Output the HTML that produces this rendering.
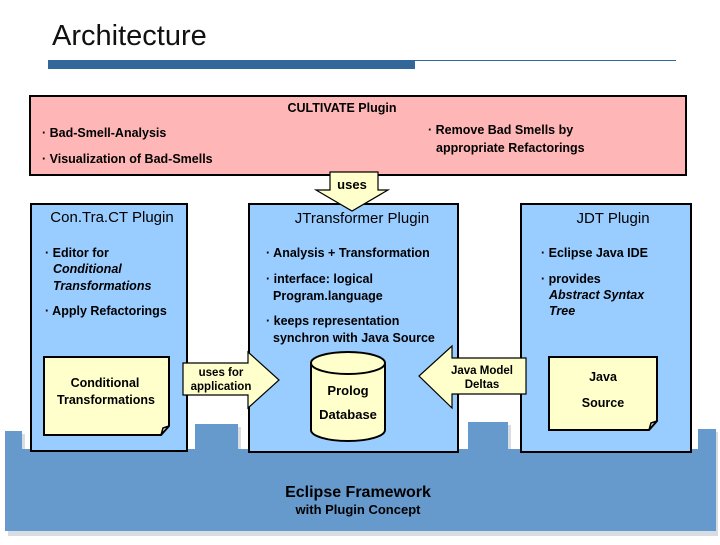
<!DOCTYPE html>
<html><head><meta charset="utf-8"><style>
body{margin:0;background:#fff}
svg text{font-family:"Liberation Sans",Arial,sans-serif;}
</style></head><body>
<svg width="720" height="540" viewBox="0 0 720 540" xmlns="http://www.w3.org/2000/svg">
<text x="52" y="45" font-size="29" fill="#111">Architecture</text>
<rect x="48" y="60" width="367" height="9" fill="#336699"/>
<line x1="415" y1="60.5" x2="676" y2="60.5" stroke="#336699" stroke-width="1"/>

<!-- Eclipse framework -->
<path d="M8 434 H25 V452 H198 V427 H241 V452 H471 V425 H511 V452 H701 V432 H718 V536 H8 Z" fill="#d8dde4"/>
<path d="M5 431 H22 V449 H195 V424 H238 V449 H468 V422 H508 V449 H698 V429 H716 V531 H5 Z" fill="#6699cc"/>
<text x="358" y="497" font-size="16" font-weight="bold" text-anchor="middle">Eclipse Framework</text>
<text x="358" y="514" font-size="13" font-weight="bold" text-anchor="middle">with Plugin Concept</text>

<!-- pink -->
<rect x="30" y="96" width="656" height="79" fill="#ffb6b6" stroke="#000" stroke-width="2"/>
<text x="342" y="112" font-size="12.5" font-weight="bold" text-anchor="middle">CULTIVATE Plugin</text>
<g font-size="12.5" font-weight="bold">
<text x="42" y="137">· Bad-Smell-Analysis</text>
<text x="42" y="163">· Visualization of Bad-Smells</text>
<text x="428" y="134">· Remove Bad Smells by</text>
<text x="436" y="152">appropriate Refactorings</text>
</g>

<!-- boxes -->
<rect x="31" y="204" width="156" height="247" fill="#99ccff" stroke="#000" stroke-width="2"/>
<rect x="249" y="204" width="209" height="248" fill="#99ccff" stroke="#000" stroke-width="2"/>
<rect x="521" y="204" width="170" height="248" fill="#99ccff" stroke="#000" stroke-width="2"/>

<!-- uses arrow -->
<path d="M330 172 H378 V190 H388 L352 211 L316 190 H330 Z" fill="#ffffcc" stroke="#000" stroke-width="1.2"/>
<text x="352" y="189" font-size="13" font-weight="bold" text-anchor="middle">uses</text>

<text x="112" y="222" font-size="15" text-anchor="middle">Con.Tra.CT Plugin</text>
<text x="362" y="223" font-size="15" text-anchor="middle">JTransformer Plugin</text>
<text x="613" y="223" font-size="15" text-anchor="middle">JDT Plugin</text>

<g font-size="12.5" font-weight="bold">
<text x="45" y="257">· Editor for</text>
<text x="53" y="273" font-style="italic">Conditional</text>
<text x="53" y="290" font-style="italic">Transformations</text>
<text x="45" y="315">· Apply Refactorings</text>

<text x="266" y="257">· Analysis + Transformation</text>
<text x="266" y="283">· interface: logical</text>
<text x="273" y="300">Program.language</text>
<text x="266" y="325">· keeps representation</text>
<text x="273" y="342">synchron with Java Source</text>

<text x="541" y="257">· Eclipse Java IDE</text>
<text x="541" y="283">· provides</text>
<text x="549" y="299" font-style="italic">Abstract Syntax</text>
<text x="549" y="315" font-style="italic">Tree</text>
</g>

<!-- notes -->
<path d="M44 357 H169 V426 L161 435 H44 Z" fill="#ffffcc" stroke="#000" stroke-width="2"/>
<path d="M161 435 L163 428 L169 426" fill="none" stroke="#000" stroke-width="1.5"/>
<text x="105" y="387" font-size="12.5" font-weight="bold" text-anchor="middle">Conditional</text>
<text x="106" y="404" font-size="12.5" font-weight="bold" text-anchor="middle">Transformations</text>

<path d="M549 357 H657 V421 L649 430 H549 Z" fill="#ffffcc" stroke="#000" stroke-width="2"/>
<path d="M649 430 L651 423 L657 421" fill="none" stroke="#000" stroke-width="1.5"/>
<text x="603" y="381" font-size="12.5" font-weight="bold" text-anchor="middle">Java</text>
<text x="603" y="407" font-size="12.5" font-weight="bold" text-anchor="middle">Source</text>

<!-- uses for application -->
<path d="M183 363 H248 V352 L279 380 L248 408 V395 H183 Z" fill="#ffffcc" stroke="#000" stroke-width="1.2"/>
<text x="221" y="376" font-size="11.5" font-weight="bold" text-anchor="middle">uses for</text>
<text x="221" y="390" font-size="11.5" font-weight="bold" text-anchor="middle">application</text>

<!-- cylinder -->
<path d="M311 363 V430 A37 11 0 0 0 385 430 V363" fill="#ffffcc" stroke="#000" stroke-width="2"/>
<ellipse cx="348" cy="363" rx="37" ry="11" fill="#ffffcc" stroke="#000" stroke-width="2"/>
<text x="348" y="395" font-size="13" font-weight="bold" text-anchor="middle">Prolog</text>
<text x="348" y="419" font-size="13" font-weight="bold" text-anchor="middle">Database</text>

<!-- Java model deltas -->
<path d="M526 358 H452 V346 L419 376 L452 408 V394 H526 Z" fill="#ffffcc" stroke="#000" stroke-width="1.2"/>
<text x="482" y="374" font-size="11.5" font-weight="bold" text-anchor="middle">Java Model</text>
<text x="482" y="388" font-size="11.5" font-weight="bold" text-anchor="middle">Deltas</text>
</svg>
</body></html>
